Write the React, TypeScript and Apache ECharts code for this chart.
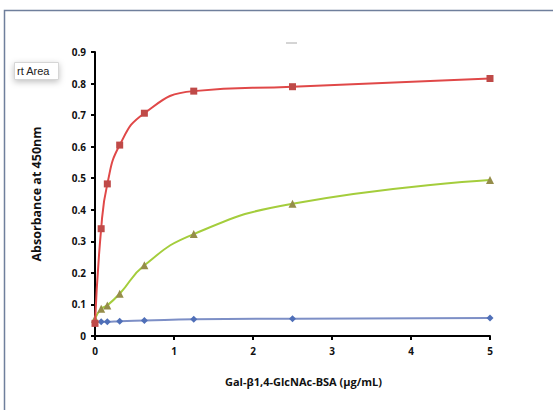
import React, { useEffect, useRef } from "react";
import * as echarts from "echarts";

const concentrations = [0, 0.078, 0.156, 0.3125, 0.625, 1.25, 2.5, 5];
const redValues = [0.04, 0.34, 0.482, 0.605, 0.706, 0.776, 0.79, 0.816];
const greenValues = [0.055, 0.086, 0.097, 0.134, 0.224, 0.323, 0.419, 0.494];
const blueValues = [0.044, 0.045, 0.045, 0.047, 0.049, 0.053, 0.055, 0.057];
const xAxisTitle = "Gal-β1,4-GlcNAc-BSA (μg/mL)";
const yAxisTitle = "Absorbance at 450nm";

const pairs = (ys: number[]) => concentrations.map((x, i) => [x, ys[i]]);

export default function App() {
  const ref = useRef<HTMLDivElement>(null);
  useEffect(() => {
    if (!ref.current) return;
    const chart = echarts.init(ref.current, null, { renderer: "svg" });
    const font = "'Open Sans', 'Liberation Sans', sans-serif";
    chart.setOption({
      animation: false,
      backgroundColor: "#ffffff",
      grid: { left: 95, right: 63, top: 52, bottom: 74 },
      xAxis: {
        type: "value",
        min: 0,
        max: 5,
        interval: 1,
        name: xAxisTitle,
        nameLocation: "middle",
        nameGap: 40,
        nameTextStyle: {
          fontFamily: font,
          fontWeight: "bold",
          fontSize: 11,
          color: "#111",
          padding: [0, 0, 0, 22],
        },
        axisLine: { show: true, lineStyle: { color: "#000", width: 2 } },
        axisTick: { show: true, length: 4, lineStyle: { color: "#000", width: 2 } },
        axisLabel: { fontFamily: font, fontWeight: "bold", fontSize: 10, color: "#111", margin: 10 },
        splitLine: { show: false },
      },
      yAxis: {
        type: "value",
        min: 0,
        max: 0.9,
        interval: 0.1,
        name: yAxisTitle,
        nameLocation: "middle",
        nameGap: 52,
        nameRotate: 90,
        nameTextStyle: { fontFamily: font, fontWeight: "bold", fontSize: 12.5, color: "#111" },
        axisLine: { show: true, lineStyle: { color: "#000", width: 2 } },
        axisTick: { show: true, length: 4, lineStyle: { color: "#000", width: 2 } },
        axisLabel: {
          fontFamily: font,
          fontWeight: "bold",
          fontSize: 10,
          color: "#111",
          margin: 9,
          formatter: (v: number) => (Math.round(v * 10) / 10).toString(),
        },
        splitLine: { show: false },
      },
      series: [
        {
          type: "line",
          data: pairs(blueValues),
          smooth: true,
          symbol: "diamond",
          symbolSize: 7,
          lineStyle: { color: "#7d8fc6", width: 2 },
          itemStyle: { color: "#4f6fb8" },
          z: 2,
        },
        {
          type: "line",
          data: pairs(greenValues),
          smooth: true,
          symbol: "triangle",
          symbolSize: 8,
          lineStyle: { color: "#a4cd3c", width: 2 },
          itemStyle: { color: "#958d4a" },
          z: 3,
        },
        {
          type: "line",
          data: pairs(redValues),
          smooth: true,
          symbol: "rect",
          symbolSize: 7,
          lineStyle: { color: "#e04848", width: 2 },
          itemStyle: { color: "#bf4a48" },
          z: 4,
        },
      ],
      graphic: [
        {
          type: "rect",
          shape: { x: 4.5, y: 10.5, width: 600, height: 450 },
          style: { fill: "none", stroke: "#6f7f9c", lineWidth: 1.5 },
          silent: true,
        },
        {
          type: "line",
          shape: { x1: 286, y1: 43, x2: 297, y2: 43 },
          style: { stroke: "#aaaaaa", lineWidth: 1 },
          silent: true,
        },
        {
          type: "rect",
          shape: { x: 14.5, y: 62.5, width: 44, height: 17 },
          style: {
            fill: "#ffffff",
            stroke: "#d6d6d6",
            lineWidth: 1,
            shadowBlur: 6,
            shadowColor: "rgba(0,0,0,0.25)",
            shadowOffsetY: 2,
          },
          silent: true,
        },
        {
          type: "text",
          x: 17,
          y: 71,
          style: {
            text: "rt Area",
            fontFamily: "'Liberation Sans', sans-serif",
            fontSize: 11,
            fill: "#222",
            verticalAlign: "middle",
          },
          silent: true,
        },
      ],
    });
    return () => chart.dispose();
  }, []);
  return (
    <div
      ref={ref}
      style={{ position: "fixed", left: 0, top: 0, width: 553, height: 410 }}
    />
  );
}
